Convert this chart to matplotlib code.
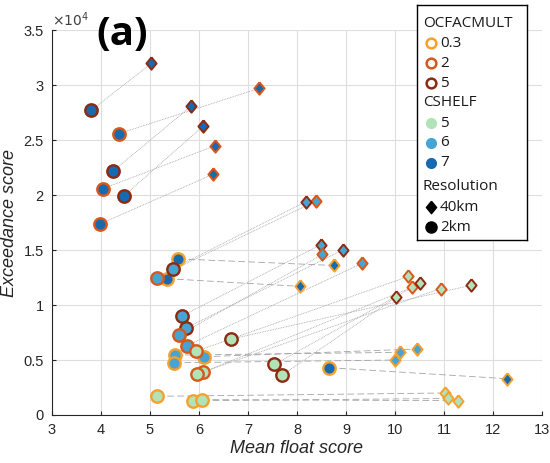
import matplotlib
matplotlib.use("Agg")
import matplotlib.pyplot as plt
from matplotlib.lines import Line2D
from matplotlib.ticker import FuncFormatter, MultipleLocator

# each run pair: 2 km (circle) -> 40 km (diamond)
float_2km = [3.80, 4.37, 4.25, 4.46, 4.05, 3.99, 5.58, 5.35, 8.66,
             5.14, 5.46, 5.65, 5.73, 5.60, 5.75, 6.10, 5.51, 5.50,
             5.94, 6.09, 5.95, 6.65, 7.54, 7.69, 5.15, 5.87, 6.07]
exceed_2km = [27700, 25600, 22200, 19900, 20600, 17400, 14200, 12400, 4300,
              12500, 13300, 9000, 7900, 7300, 6300, 5300, 5450, 4750,
              5800, 3900, 3700, 6900, 4600, 3600, 1700, 1300, 1400]
float_40km = [5.03, 7.22, 5.84, 6.09, 6.33, 6.29, 8.76, 8.06, 12.28,
              8.38, 8.18, 8.49, 8.93, 8.52, 9.33, 10.44, 10.10, 9.99,
              10.27, 10.34, 10.93, 11.56, 10.51, 10.03, 11.01, 11.09, 11.28]
exceed_40km = [32000, 29700, 28100, 26300, 24500, 21900, 13600, 11700, 3300,
               19450, 19400, 15500, 15000, 14600, 13800, 6000, 5700, 5000,
               12600, 11600, 11500, 11800, 12000, 10750, 2000, 1500, 1300]
ocfacmult = [5, 2, 5, 5, 2, 2, 0.3, 0.3, 0.3,
             2, 5, 5, 5, 2, 2, 0.3, 0.3, 0.3,
             2, 2, 2, 5, 5, 5, 0.3, 0.3, 0.3]
cshelf = [7] * 9 + [6] * 9 + [5] * 9

ocfac_levels = [0.3, 2, 5]
cshelf_levels = [5, 6, 7]
edge_col = {0.3: "#f7a02c", 2: "#d9571a", 5: "#8c2a12"}
fill_col = {5: "#b2e2b8", 6: "#46a4d4", 7: "#1769b0"}
link_style = {0.3: (0, (8, 4)), 2: (0, (1, 1)), 5: (0, (1, 1))}

DIAMOND = [(0, 1), (0.82, 0), (0, -1), (-0.82, 0), (0, 1)]
FONT = "Liberation Sans"

fig = plt.figure(figsize=(5.5, 4.63), dpi=100)
ax = fig.add_axes([0.0945, 0.1037, 0.891, 0.831])

# connecting lines
for i in range(len(float_2km)):
    ax.plot([float_2km[i], float_40km[i]], [exceed_2km[i], exceed_40km[i]],
            color="#a4a4a4", lw=0.6, ls=link_style[ocfacmult[i]], zorder=2)

# markers
for i in range(len(float_2km)):
    ec = edge_col[ocfacmult[i]]
    fc = fill_col[cshelf[i]]
    ax.scatter(float_40km[i], exceed_40km[i], marker=DIAMOND, s=80,
               facecolor=fc, edgecolor=ec, linewidths=1.4, zorder=3)
    ax.scatter(float_2km[i], exceed_2km[i], marker="o", s=80,
               facecolor=fc, edgecolor=ec, linewidths=1.7, zorder=4)

ax.set_xlim(3, 13)
ax.set_ylim(0, 35000)
ax.xaxis.set_major_locator(MultipleLocator(1))
ax.yaxis.set_major_locator(MultipleLocator(5000))
ax.yaxis.set_major_formatter(FuncFormatter(lambda v, p: f"{v / 1e4:g}"))
ax.grid(True, color="#dedede", lw=0.8)
ax.set_axisbelow(True)
for side in ("top", "right"):
    ax.spines[side].set_visible(False)
for side in ("left", "bottom"):
    ax.spines[side].set_color("#262626")
    ax.spines[side].set_linewidth(0.8)
ax.tick_params(direction="in", length=3, width=0.8, colors="#262626",
               labelsize=10.5, pad=6)
for lbl in ax.get_xticklabels() + ax.get_yticklabels():
    lbl.set_fontfamily(FONT)

ax.set_xlabel("Mean float score", fontsize=13, style="italic",
              family=FONT, color="#262626", labelpad=2)
ax.set_ylabel("Exceedance score", fontsize=13, style="italic",
              family=FONT, color="#262626", labelpad=4)

fig.text(0.095, 0.958, r"$\times10^4$", fontsize=10, color="#404040",
         family=FONT, va="center")
fig.text(0.176, 0.903, "(a)", fontsize=29, fontweight="bold", family="Open Sans",
         va="baseline")

# legend box (drawn as its own small axes, pixel-like coordinates)
lax = fig.add_axes([417 / 550, 1 - 240 / 463, 110 / 550, 235 / 463])
lax.set_xlim(0, 110)
lax.set_ylim(235, 0)
lax.set_xticks([])
lax.set_yticks([])
for sp in lax.spines.values():
    sp.set_color("black")
    sp.set_linewidth(1.0)
lfont = dict(fontsize=11, family="Open Sans", va="center", color="#1a1a1a")
mx, tx = 14, 23

lax.text(6, 18, "OCFACMULT", **lfont)
for k, lev in enumerate(ocfac_levels):
    yy = 38 + 20 * k
    lax.add_line(Line2D([mx], [yy], marker="o", ms=7, mfc="white",
                        mec=edge_col[lev], mew=1.8, ls="none"))
    lax.text(tx, yy, f"{lev:g}", **lfont)

lax.text(6, 97, "CSHELF", **lfont)
for k, lev in enumerate(cshelf_levels):
    yy = 118 + 20 * k
    lax.add_line(Line2D([mx], [yy], marker="o", ms=7, mfc=fill_col[lev],
                        mec=fill_col[lev], ls="none"))
    lax.text(tx, yy, f"{lev}", **lfont)

lax.text(6, 182, "Resolution", **lfont)
lax.add_line(Line2D([mx], [202], marker=DIAMOND, ms=9, mfc="black",
                    mec="black", ls="none"))
lax.text(tx, 202, "40km", **lfont)
lax.add_line(Line2D([mx], [222], marker="o", ms=8, mfc="black",
                    mec="black", ls="none"))
lax.text(tx, 222, "2km", **lfont)

fig.savefig("out.png", dpi=100)
